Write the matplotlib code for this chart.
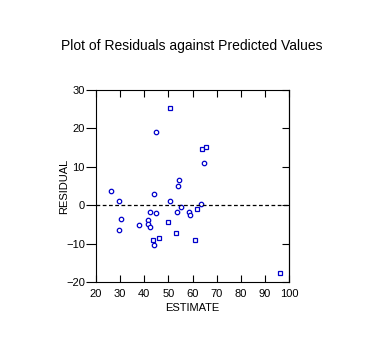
import matplotlib
matplotlib.use("Agg")
import matplotlib.pyplot as plt

plt.rcParams['font.family'] = ['Liberation Sans', 'DejaVu Sans']

# predicted values and residuals; marker shape per observation
estimate = [26.1, 29.4, 30.3, 29.4, 38.0, 41.6, 41.6, 42.5, 42.5, 44.0,
            43.8, 44.1, 44.8, 45.0, 46.3, 50.5, 50.6, 49.9, 53.0, 53.7,
            54.0, 54.2, 55.4, 58.4, 59.1, 60.8, 61.7, 63.5, 64.1, 65.5,
            64.8, 96.1]
residual = [3.8, 1.2, -3.5, -6.6, -5.2, -3.8, -5.0, -1.7, -5.7, 2.9,
            -9.1, -10.3, 19.0, -2.1, -8.5, 25.4, 1.2, -4.3, -7.2, -1.9,
            4.9, 6.5, -0.6, -1.7, -2.5, -9.1, -1.0, 0.3, 14.7, 15.3,
            10.9, -17.6]
shape = ['o', 'o', 'o', 'o', 'o', 'o', 'o', 'o', 'o', 'o',
         's', 'o', 'o', 'o', 's', 's', 'o', 's', 's', 'o',
         'o', 'o', 'o', 'o', 'o', 's', 's', 'o', 's', 's',
         'o', 's']

x_ticks = [20, 30, 40, 50, 60, 70, 80, 90, 100]
y_ticks = [-20, -10, 0, 10, 20, 30]

fig = plt.figure(figsize=(3.84, 3.48), dpi=100)
ax = fig.add_axes([0.250, 0.190, 0.503, 0.551])

for m in ('o', 's'):
    xs = [x for x, s in zip(estimate, shape) if s == m]
    ys = [y for y, s in zip(residual, shape) if s == m]
    ax.plot(xs, ys, linestyle='none', marker=m, markersize=3.2,
            markerfacecolor='white', markeredgecolor='#0000cc',
            markeredgewidth=0.9)

ax.axhline(0, color='black', linestyle=(0, (3, 2)), linewidth=0.9)

ax.set_xlim(20, 100)
ax.set_ylim(-20, 30)
ax.set_xticks(x_ticks)
ax.set_yticks(y_ticks)
ax.tick_params(axis='x', direction='in', length=5, width=0.8, labelsize=8,
               top=True, pad=5)
ax.tick_params(axis='y', direction='out', length=7, width=0.8, labelsize=8,
               right=False, pad=1)

# inward ticks on the right edge, no labels
right = ax.secondary_yaxis('right')
right.set_yticks(y_ticks)
right.tick_params(direction='in', length=5, width=0.8, labelright=False)
right.spines['right'].set_linewidth(0.8)

for sp in ax.spines.values():
    sp.set_linewidth(0.8)

ax.set_xlabel('ESTIMATE', fontsize=8, labelpad=3)
ax.set_ylabel('RESIDUAL', fontsize=8)
ax.yaxis.set_label_coords(-0.14, 0.5)
fig.text(0.5, 0.868, 'Plot of Residuals against Predicted Values',
         ha='center', va='center', fontsize=10)

fig.savefig('out.png', dpi=100)
